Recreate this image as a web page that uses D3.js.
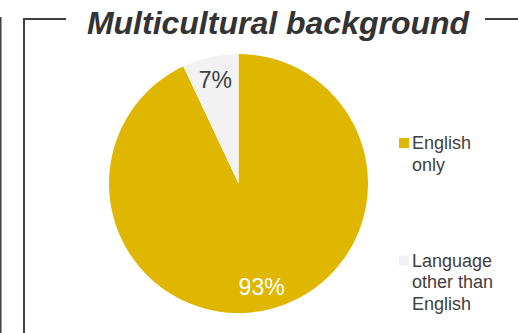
<!DOCTYPE html>
<html>
<head>
<meta charset="utf-8">
<script src="https://cdn.jsdelivr.net/npm/d3@7"></script>
<style>
  html, body { margin: 0; padding: 0; background: #fff; }
  svg { display: block; }
</style>
</head>
<body>
<svg id="chart" width="518" height="333"></svg>
<script>
const title = "Multicultural background";
const categories = ["English only", "Language other than English"];
const legendLines = [["English", "only"], ["Language", "other than", "English"]];
const values = [93, 7];
const valueLabels = ["93%", "7%"];
const colors = ["#E0B700", "#F2F2F2"];
const labelColors = ["#FFFFFF", "#404040"];

const svg = d3.select("#chart");
const W = 518, H = 333;
svg.append("rect").attr("width", W).attr("height", H).attr("fill", "#fff");

const font = "'Liberation Sans', Arial, sans-serif";
const lineColor = "#404040";

// frame decorations
svg.append("line").attr("x1", 0.75).attr("x2", 0.75).attr("y1", 17).attr("y2", H)
  .attr("stroke", lineColor).attr("stroke-width", 1.5);
svg.append("path").attr("d", `M24,${H} L24,19 L66,19`)
  .attr("fill", "none").attr("stroke", lineColor).attr("stroke-width", 2);
svg.append("line").attr("x1", 485).attr("x2", W).attr("y1", 19).attr("y2", 19)
  .attr("stroke", lineColor).attr("stroke-width", 2);

// title
svg.append("text").attr("x", 278).attr("y", 33.5)
  .attr("text-anchor", "middle")
  .attr("font-family", font).attr("font-size", 32)
  .attr("font-weight", "bold").attr("font-style", "italic")
  .attr("fill", "#333333")
  .text(title);

// pie
const cx = 238.5, cy = 183.5, R = 129.5;
const pie = d3.pie().sort(null).value(d => d)(values);
const arc = d3.arc().innerRadius(0).outerRadius(R);
const labelArc = d3.arc().innerRadius(106).outerRadius(106);
const g = svg.append("g").attr("transform", `translate(${cx},${cy})`);
g.selectAll("path.slice").data(pie).join("path")
  .attr("class", "slice")
  .attr("d", arc)
  .attr("fill", (d, i) => colors[i]);
g.selectAll("text.lbl").data(pie).join("text")
  .attr("class", "lbl")
  .attr("transform", d => `translate(${labelArc.centroid(d)})`)
  .attr("text-anchor", "middle")
  .attr("dominant-baseline", "central")
  .attr("font-family", font).attr("font-size", 23)
  .attr("fill", (d, i) => labelColors[i])
  .text((d, i) => valueLabels[i]);

// legend
const legendY = [149, 266.5];
const lg = svg.append("g");
categories.forEach((c, i) => {
  const y = legendY[i];
  lg.append("rect").attr("x", 399).attr("y", y - 11).attr("width", 10).attr("height", 10)
    .attr("fill", colors[i]);
  const t = lg.append("text").attr("font-family", font).attr("font-size", 18)
    .attr("fill", "#404040");
  legendLines[i].forEach((ln, j) => {
    t.append("tspan").attr("x", 412).attr("y", y + j * 21.8).text(ln);
  });
});
</script>
</body>
</html>
